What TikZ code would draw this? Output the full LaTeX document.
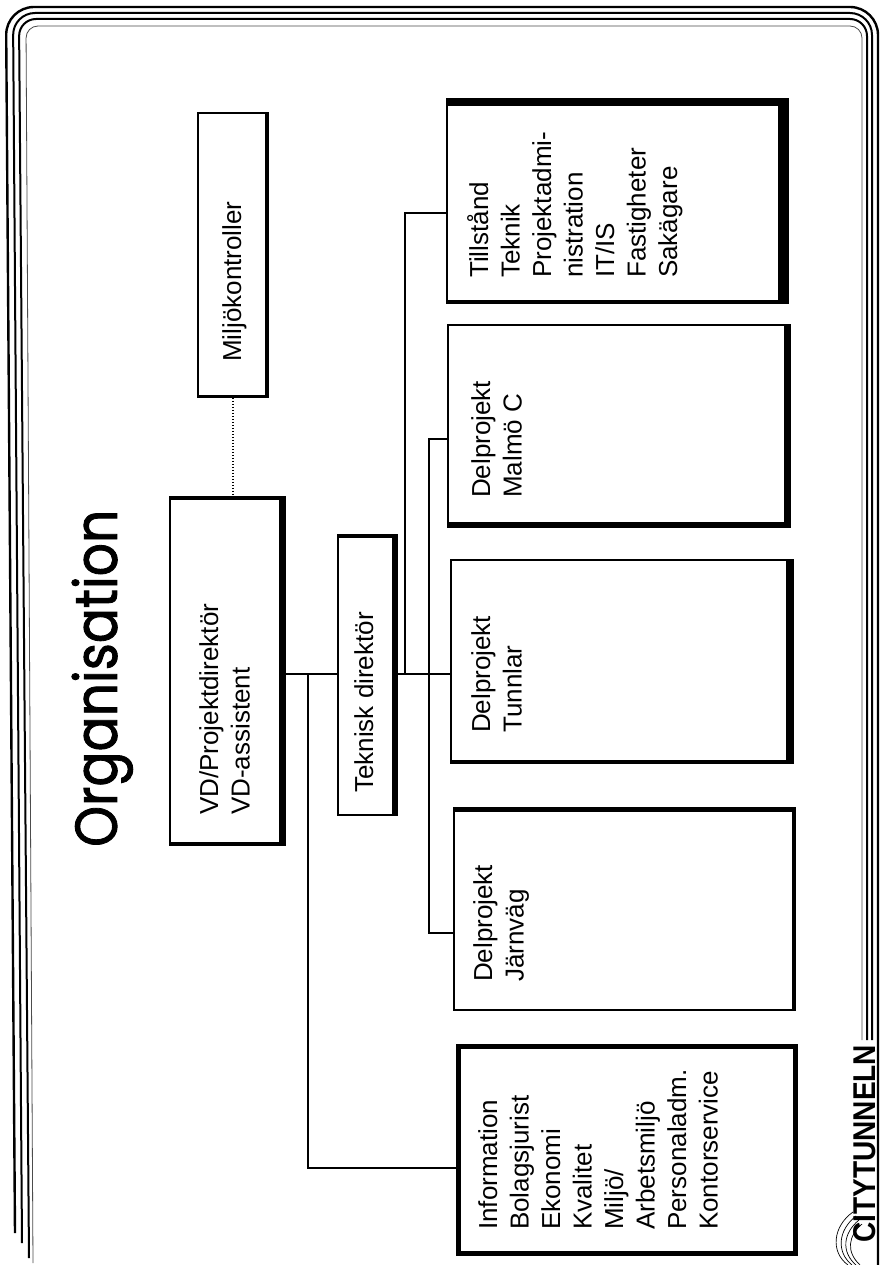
\documentclass[tikz,border=0pt]{standalone}
\usepackage{fontspec}
\setmainfont{Liberation Sans}
\newfontfamily\titlefont[FakeBold=1.6]{Poppins}
\usetikzlibrary{calc}
\begin{document}
\begin{tikzpicture}[x=1pt,y=-1pt,
  box/.style={draw, line width=1.6pt, rectangle, inner sep=0pt},
  lbl/.style={rotate=90, anchor=base west, inner sep=0pt, align=left, font=\fontsize{26}{31.5}\selectfont},
  conn/.style={line width=1.3pt},
  spine/.style={line width=2.5pt},
  dotl/.style={line width=1.6pt, dash pattern=on 1.6pt off 1.4pt},
  framel/.style={line width=#1}]
\useasboundingbox (0,0) rectangle (880,1265);
\fill[white] (0,0) rectangle (880,1265);

% frame
\draw[framel=2.4pt, rounded corners=28pt] (15,1233) -- (6,7) -- (878,7) -- (878,1265);
\draw[framel=2pt, rounded corners=22pt] (22,1243) -- (13,13) -- (872,13) -- (872,1040);
\draw[framel=2pt, rounded corners=17pt] (29,1258) -- (19,19) -- (867,19) -- (867,1040);
\draw[framel=0.8pt, black!70, rounded corners=12pt] (33,1263) -- (26,26) -- (862,26) -- (862,1040);

% title
\node[rotate=90, anchor=south west, inner sep=0pt] (title) at (133,847)
  {\resizebox*{337pt}{61pt}{\titlefont Organisation}};

% boxes
\node[box, minimum width=70pt,  minimum height=284pt] (miljo) at (233,255) {};
\node[box, minimum width=115pt, minimum height=348pt] (vd)    at (227.5,671) {};
\node[box, minimum width=59pt,  minimum height=280pt] (tek)   at (367.5,675) {};
\node[box, minimum width=341pt, minimum height=204pt] (till)  at (617.5,201) {};
\node[box, minimum width=342pt, minimum height=202pt] (malmo) at (619,426) {};
\node[box, minimum width=342pt, minimum height=203pt] (tunn)  at (622,661.5) {};
\node[box, minimum width=341pt, minimum height=202pt] (jarn)  at (624.5,909) {};
\node[box, minimum width=340pt, minimum height=210pt] (info)  at (627,1150) {};

% shadows / heavy edges
\fill ([xshift=-4pt]miljo.north east) rectangle (miljo.south east);
\fill ([yshift=3pt]miljo.south west) rectangle (miljo.south east);
\fill (vd.north west) rectangle ([yshift=-4pt]vd.north east);
\fill ([xshift=-7pt]vd.north east) rectangle (vd.south east);
\fill ([yshift=4pt]vd.south west) rectangle (vd.south east);
\fill (tek.north west) rectangle ([yshift=-4pt]tek.north east);
\fill ([xshift=-6pt]tek.north east) rectangle (tek.south east);
\fill (till.north west) rectangle ([yshift=-8pt]till.north east);
\fill ([xshift=-11pt]till.north east) rectangle (till.south east);
\fill ([yshift=4pt]till.south west) rectangle (till.south east);
\fill ([xshift=-7pt]malmo.north east) rectangle (malmo.south east);
\fill ([yshift=6pt]malmo.south west) rectangle (malmo.south east);
\fill ([xshift=-8pt]tunn.north east) rectangle (tunn.south east);
\fill ([yshift=4pt]tunn.south west) rectangle (tunn.south east);
\fill (jarn.north west) rectangle ([yshift=-5pt]jarn.north east);
\fill ([xshift=-4pt]jarn.north east) rectangle (jarn.south east);
\fill (info.north west) rectangle ([yshift=-5pt]info.north east);
\fill ([xshift=-5pt]info.north east) rectangle (info.south east);
\fill ([yshift=5pt]info.south west) rectangle (info.south east);
\fill (info.north west) rectangle ([xshift=5pt]info.south west);

% labels (base anchor = baseline of the last line)
\node[lbl] (miljoT) at (241,362) {Miljökontroller};
\node[lbl] (vdT)    at (249.5,815) {VD/Projektdirektör\\VD-assistent};
\node[lbl] (tekT)   at (373,793) {Teknisk direktör};
\node[lbl] (tillT)  at (677,278) {Tillstånd\\Teknik\\Projektadmi-\\nistration\\IT/IS\\Fastigheter\\Sakägare};
\node[lbl] (malmoT) at (521.5,498) {Delprojekt\\Malmö C};
\node[lbl] (tunnT)  at (521.5,733) {Delprojekt\\Tunnlar};
\node[lbl] (jarnT)  at (523.5,982) {Delprojekt\\Järnväg};
\node[lbl] (infoT)  at (717.5,1230) {Information\\Bolagsjurist\\Ekonomi\\Kvalitet\\Miljö/\\Arbetsmiljö\\Personaladm.\\Kontorservice};

% connectors
\coordinate (sp) at (0,674);
\coordinate (b1) at (308,674);
\coordinate (b2) at (405,674);
\coordinate (yinfo) at (0,1168);
\coordinate (ytill) at (0,213);
\coordinate (b3) at (429,439);
\coordinate (b4) at (429,933);
\draw[dotl] (miljo.south) -- (miljo.south |- vd.north);
\draw[spine] (vd.east |- sp) -- (tek.west |- sp);
\draw[spine] (tek.east |- sp) -- (tunn.west |- sp);
\draw[conn] (b1) |- (info.west |- yinfo);
\draw[conn] (b2) |- (till.west |- ytill);
\draw[conn] (malmo.west |- b3) -- (b3) -- (b4) -- (jarn.west |- b4);

% logo
\node[rotate=90, anchor=south west, inner sep=0pt] (logo) at (876,1243)
  {\resizebox{198pt}{22pt}{\bfseries CITYTUNNELN}};
\draw[line width=0.7pt] (853,1212) .. controls (833,1226) and (830,1252) .. (848,1265);
\draw[line width=0.7pt] (856,1216) .. controls (838,1230) and (836,1252) .. (852,1265);
\draw[line width=0.7pt] (859,1220) .. controls (843,1233) and (841,1252) .. (856,1265);
\draw[line width=0.7pt] (862,1224) .. controls (848,1236) and (846,1252) .. (860,1265);
\end{tikzpicture}
\end{document}
